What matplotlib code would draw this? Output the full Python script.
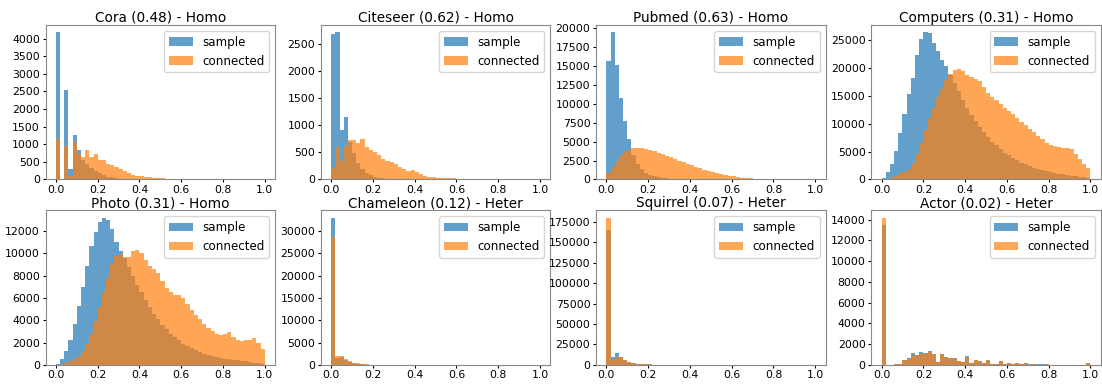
import numpy as np
import matplotlib
matplotlib.use("Agg")
import matplotlib.pyplot as plt
from matplotlib.ticker import MultipleLocator

# 50 bins of width 0.02 over [0, 1]
bin_edges = np.linspace(0.0, 1.0, 51)

titles = ["Cora (0.48) - Homo", "Citeseer (0.62) - Homo", "Pubmed (0.63) - Homo",
          "Computers (0.31) - Homo", "Photo (0.31) - Homo", "Chameleon (0.12) - Heter",
          "Squirrel (0.07) - Heter", "Actor (0.02) - Heter"]

def pad(vals):
    return list(vals) + [0] * (50 - len(vals))

cora_sample = pad([4180, 0, 2530, 300, 1270, 830, 560, 430, 320, 250, 170, 120, 80, 55, 35, 25,
                   18, 12, 8, 6, 5, 4, 3, 2, 2, 1, 1, 1])
cora_connected = pad([1150, 0, 950, 100, 1050, 720, 650, 840, 640, 730, 560, 540, 430, 410, 360,
                      300, 230, 170, 120, 100, 110, 80, 60, 50, 40, 30, 25, 20, 20, 15, 15, 12,
                      10, 10, 8, 8, 6, 6, 5, 5, 5, 4, 4, 3, 3, 3, 2, 2, 2, 2])

citeseer_sample = pad([2680, 2720, 910, 1150, 700, 480, 300, 190, 120, 80, 50, 35, 25, 15, 10,
                       8, 6, 4, 3, 2, 2, 1])
citeseer_connected = pad([220, 600, 350, 620, 720, 720, 680, 750, 600, 550, 500, 460, 380, 340,
                          330, 280, 230, 190, 160, 170, 140, 100, 70, 50, 40, 30, 25, 20, 20,
                          18, 15, 10, 8, 6, 5, 4, 3, 3, 2, 2, 2, 1, 1, 1, 1, 1, 1, 1, 1, 1])

pubmed_sample = pad([15700, 19450, 15100, 10700, 7700, 5300, 3200, 2100, 1400, 900, 600, 420,
                     300, 210, 150, 100, 70, 50, 35, 25, 18, 12, 8, 5, 3, 2, 1])
pubmed_connected = pad([800, 1700, 2500, 3200, 3700, 3950, 4100, 4150, 4100, 4000, 3900, 3700,
                        3500, 3300, 3100, 2900, 2700, 2500, 2300, 2100, 1900, 1700, 1500, 1300,
                        1150, 1000, 850, 720, 600, 500, 400, 320, 250, 190, 140, 100, 70, 50,
                        30, 20])

computers_sample = [300, 1400, 2800, 5100, 8300, 11800, 15300, 18200, 22300, 25200, 26400, 26200,
                    24500, 23000, 21500, 20300, 18800, 17300, 15800, 14300, 12900, 11600, 10400,
                    9400, 8500, 7600, 6800, 6100, 5400, 4800, 4300, 3800, 3400, 3000, 2700, 2400,
                    2100, 1900, 1700, 1500, 1300, 1150, 1000, 900, 800, 700, 600, 500, 400, 300]
computers_connected = [0, 100, 300, 600, 900, 1300, 1900, 2900, 4500, 6500, 8800, 11000, 12800,
                       14800, 16300, 17800, 19000, 19600, 19900, 19500, 18800, 18400, 18000,
                       17600, 16600, 15500, 14800, 14200, 13500, 12900, 12300, 11700, 11000,
                       10300, 9700, 9100, 8500, 7800, 7200, 6600, 6200, 6000, 5800, 5700, 5600,
                       5400, 4600, 3700, 2800, 2000]

photo_sample = [100, 500, 1200, 2200, 3700, 5300, 7000, 8900, 10700, 11900, 12800, 13200, 13000,
                12200, 11000, 10200, 9600, 8800, 8000, 7200, 6500, 5800, 5200, 4600, 4100, 3600,
                3200, 2800, 2500, 2200, 1900, 1700, 1500, 1300, 1150, 1000, 900, 800, 700, 600,
                550, 500, 450, 400, 350, 300, 250, 200, 150, 100]
photo_connected = [0, 50, 150, 300, 500, 800, 1200, 1900, 2800, 3900, 5200, 6500, 7800, 9000,
                   9800, 9900, 9700, 9700, 10200, 10300, 10000, 9400, 8900, 8600, 8200, 7500,
                   6900, 6500, 6300, 6300, 6000, 5500, 4900, 4500, 4100, 3700, 3300, 3000, 2800,
                   2700, 2800, 2900, 2500, 2200, 2150, 2200, 2250, 2400, 2000, 1450]

chameleon_sample = pad([33000, 1500, 1800, 1000, 600, 400, 220, 120, 60, 30, 15, 8])
chameleon_connected = pad([28700, 2000, 2050, 1300, 800, 500, 320, 200, 110, 50, 20, 10])

squirrel_sample = pad([165000, 10000, 14000, 10000, 6000, 4000, 2500, 1500, 1000, 700, 400, 200,
                       100, 50])
squirrel_connected = pad([180000, 6000, 10000, 9000, 6000, 4000, 2500, 1500, 1000, 700, 400, 200,
                          100, 50])

actor_sample = [13500, 0, 0, 30, 100, 450, 650, 1100, 900, 1200, 1100, 1300, 1050, 280, 1050, 780,
                700, 620, 400, 280, 850, 200, 450, 350, 150, 450, 100, 60, 400, 50, 150, 50, 150,
                40, 150, 30, 40, 30, 30, 60, 20, 20, 20, 20, 20, 20, 20, 20, 20, 150]
actor_connected = [14200, 0, 0, 30, 100, 450, 600, 900, 850, 1150, 1050, 1250, 1000, 250, 1000,
                   750, 680, 600, 380, 260, 750, 180, 420, 320, 140, 430, 90, 50, 380, 40, 140, 40,
                   140, 30, 140, 20, 30, 20, 20, 40, 20, 20, 20, 20, 20, 20, 20, 20, 20, 150]

samples = [cora_sample, citeseer_sample, pubmed_sample, computers_sample,
           photo_sample, chameleon_sample, squirrel_sample, actor_sample]
connecteds = [cora_connected, citeseer_connected, pubmed_connected, computers_connected,
              photo_connected, chameleon_connected, squirrel_connected, actor_connected]
ytick_steps = [500, 500, 2500, 5000, 2000, 5000, 25000, 2000]

plt.rcParams['font.family'] = ['DejaVu Sans']
fig, axes = plt.subplots(2, 4, figsize=(11.02, 3.84), dpi=100)
fig.subplots_adjust(left=0.0413, right=0.999, top=0.935, bottom=0.05, wspace=0.198, hspace=0.2)

centers = (bin_edges[:-1] + bin_edges[1:]) / 2
for ax, title, s, c, step in zip(axes.flat, titles, samples, connecteds, ytick_steps):
    ax.hist(centers, bins=bin_edges, weights=s, alpha=0.7, color='tab:blue', label='sample')
    ax.hist(centers, bins=bin_edges, weights=c, alpha=0.7, color='tab:orange', label='connected')
    ax.set_title(title, fontsize=9.8, pad=2)
    ax.yaxis.set_major_locator(MultipleLocator(step))
    ax.xaxis.set_major_locator(MultipleLocator(0.2))
    ax.tick_params(labelsize=7.8, length=2.5, pad=1.5)
    ax.legend(loc='upper right', fontsize=8.6)
    for sp in ax.spines.values():
        sp.set_color('#888888')

fig.savefig('out.png', dpi=100)
